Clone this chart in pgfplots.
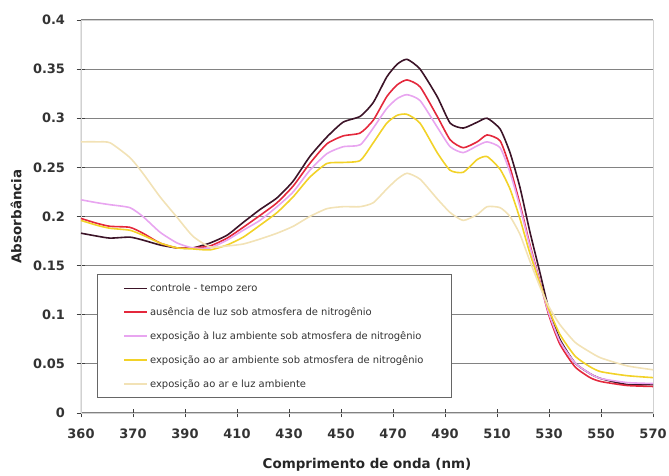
\documentclass[border=0pt]{standalone}
\usepackage{fontspec}
\setmainfont{DejaVu Sans}
\usepackage{pgfplots}
\usepackage{pgfplotstable}
\pgfplotsset{compat=1.18}
\definecolor{cDark}{RGB}{60,20,40}
\definecolor{cRed}{RGB}{228,40,60}
\definecolor{cPink}{RGB}{232,165,240}
\definecolor{cYel}{RGB}{242,210,40}
\definecolor{cBei}{RGB}{242,226,182}
\definecolor{cGrid}{RGB}{130,130,130}
\pgfplotstableread{
p d r k y b
0 0.183 0.198 0.217 0.196 0.276
0.31 0.180 0.193 0.214 0.191 0.276
0.56 0.178 0.190 0.212 0.188 0.275
0.94 0.179 0.189 0.209 0.186 0.260
1.19 0.176 0.183 0.200 0.181 0.244
1.52 0.171 0.173 0.184 0.173 0.220
1.85 0.168 0.168 0.173 0.168 0.199
2.15 0.168 0.168 0.168 0.167 0.180
2.48 0.173 0.170 0.168 0.166 0.169
2.81 0.181 0.178 0.176 0.171 0.170
3.12 0.194 0.189 0.186 0.179 0.172
3.44 0.207 0.201 0.196 0.191 0.177
3.77 0.219 0.214 0.210 0.204 0.183
4.08 0.236 0.231 0.225 0.220 0.190
4.40 0.261 0.254 0.247 0.240 0.200
4.73 0.281 0.274 0.264 0.254 0.208
5.04 0.296 0.282 0.271 0.255 0.210
5.37 0.302 0.285 0.273 0.257 0.210
5.62 0.316 0.298 0.290 0.275 0.214
5.88 0.342 0.322 0.310 0.295 0.228
6.08 0.355 0.334 0.320 0.303 0.238
6.27 0.360 0.339 0.324 0.304 0.244
6.52 0.350 0.332 0.318 0.295 0.238
6.85 0.322 0.302 0.291 0.265 0.218
7.10 0.295 0.278 0.271 0.247 0.204
7.35 0.290 0.270 0.265 0.245 0.196
7.62 0.296 0.276 0.272 0.258 0.202
7.81 0.300 0.283 0.276 0.261 0.210
8.06 0.289 0.277 0.270 0.248 0.209
8.25 0.265 0.250 0.245 0.228 0.200
8.44 0.230 0.213 0.210 0.198 0.182
8.63 0.185 0.172 0.170 0.163 0.155
8.83 0.142 0.133 0.132 0.131 0.128
9.00 0.105 0.099 0.101 0.105 0.108
9.21 0.075 0.070 0.073 0.080 0.090
9.50 0.051 0.047 0.051 0.058 0.072
9.79 0.040 0.036 0.040 0.047 0.062
10.0 0.035 0.032 0.035 0.042 0.056
10.5 0.029 0.028 0.031 0.038 0.048
11 0.029 0.027 0.030 0.036 0.044
}\spectra
\begin{document}
\begin{tikzpicture}
\begin{axis}[
  at={(0,0)}, anchor=south west,
  width=572bp, height=393bp, scale only axis,
  xmin=0, xmax=11, ymin=0, ymax=0.4,
  xtick={0,1,2,3,4,5,6,7,8,9,10,11},
  xticklabels={360,370,390,410,430,450,470,490,510,530,550,570},
  ytick={0,0.05,0.1,0.15,0.2,0.25,0.3,0.35,0.4},
  yticklabels={0,0.05,0.1,0.15,0.2,0.25,0.3,0.35,0.4},
  /pgf/number format/assume math mode=true,
  tick pos=left,
  tick align=center,
  major tick length=9bp,
  tick style={draw=black!75, line width=0.9bp},
  ymajorgrids,
  grid style={draw=cGrid, line width=1.2bp},
  axis line style={draw=black!18, line width=0.9bp},
  ticklabel style={font=\bfseries\fontsize{13}{15}\selectfont, text=black!80},
  xticklabel style={yshift=-8bp},
  yticklabel style={xshift=-8bp},
  xlabel={Comprimento de onda (nm)},
  ylabel={Absorbância},
  label style={font=\bfseries\fontsize{13.5}{16}\selectfont, text=black!85},
  xlabel style={at={(axis description cs:0.5,-0.1323)}, anchor=center},
  ylabel style={at={(axis description cs:-0.1136,0.5)}, anchor=center},
  legend style={at={(0.028,0.038)}, anchor=south west, draw=black!60, line width=1bp,
    fill=white, font=\fontsize{10}{12}\selectfont, inner xsep=26bp, inner ysep=7bp,
    row sep=10.5bp, text=black!80},
  legend cell align=left,
  legend image code/.code={\draw[#1] (0bp,0bp) -- (23bp,0bp);},
]
\addplot[cDark, line width=1.6bp, smooth, tension=0.35] table[x=p, y=d] {\spectra};
\addlegendentry{controle - tempo zero}
\addplot[cRed, line width=1.6bp, smooth, tension=0.35] table[x=p, y=r] {\spectra};
\addlegendentry{ausência de luz sob atmosfera de nitrogênio}
\addplot[cPink, line width=1.6bp, smooth, tension=0.35] table[x=p, y=k] {\spectra};
\addlegendentry{exposição à luz ambiente sob atmosfera de nitrogênio}
\addplot[cYel, line width=1.6bp, smooth, tension=0.35] table[x=p, y=y] {\spectra};
\addlegendentry{exposição ao ar ambiente sob atmosfera de nitrogênio}
\addplot[cBei, line width=1.6bp, smooth, tension=0.35] table[x=p, y=b] {\spectra};
\addlegendentry{exposição ao ar e luz ambiente}
\draw[black!75, line width=1bp] (rel axis cs:0,1) -- (rel axis cs:0,0) -- (rel axis cs:1,0);
\end{axis}
\pgfresetboundingbox
\path (-81bp,-63bp) rectangle (588bp,413bp);
\end{tikzpicture}
\end{document}
